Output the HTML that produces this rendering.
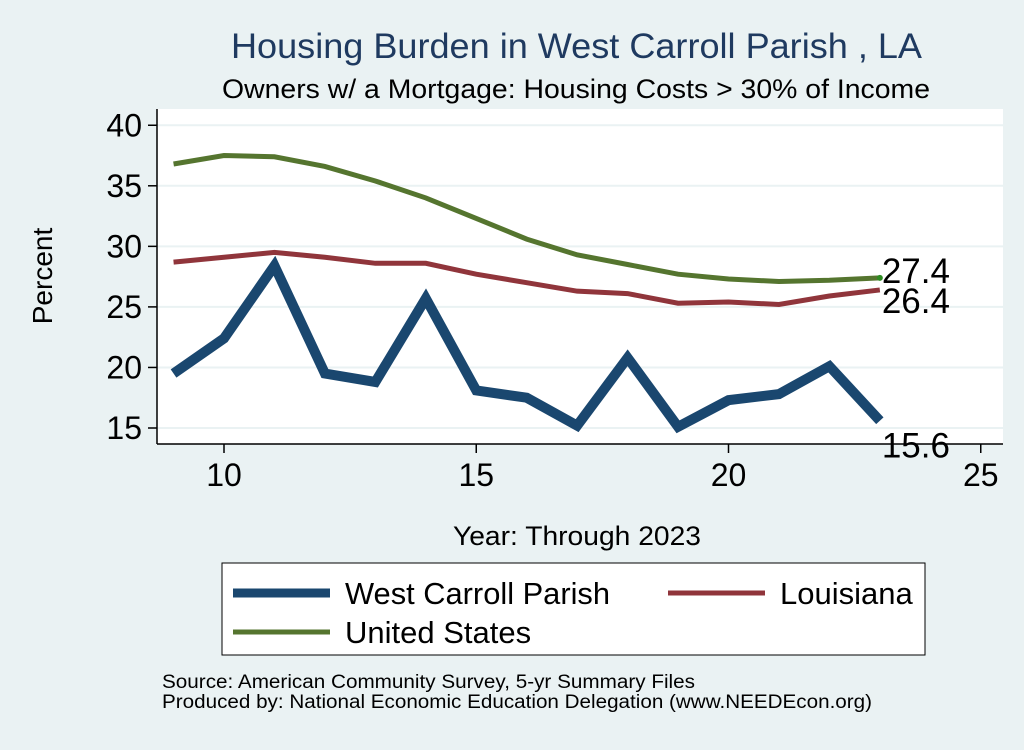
<!DOCTYPE html>
<html><head><meta charset="utf-8"><style>
body{margin:0;background:#eaf2f3;}
svg text{font-family:"Liberation Sans",Arial,sans-serif;}
</style></head><body>
<svg width="1024" height="745" viewBox="0 0 1024 745">
<rect x="0" y="0" width="1024" height="745" fill="#eaf2f3"/>
<rect x="157" y="109" width="846" height="335" fill="#ffffff"/>
<text x="231" y="58" font-size="35" fill="#1f3a60" textLength="691" lengthAdjust="spacingAndGlyphs">Housing Burden in West Carroll Parish , LA</text>
<text x="222" y="98" font-size="27" fill="#000" textLength="708" lengthAdjust="spacingAndGlyphs">Owners w/ a Mortgage: Housing Costs &gt; 30% of Income</text>
<g id="grid"></g><g id="axes"></g><g id="series"></g>
<text x="52" y="276" font-size="28" text-anchor="middle" transform="rotate(-90 52 276)">Percent</text>
<text x="453" y="545" font-size="27" textLength="248" lengthAdjust="spacingAndGlyphs">Year: Through 2023</text>
<g>
<rect x="222" y="563" width="703" height="92" fill="#fff" stroke="#000" stroke-width="1"/>
<line x1="233" y1="593" x2="330" y2="593" stroke="#1a476f" stroke-width="9"/>
<text x="345" y="604" font-size="31" textLength="265" lengthAdjust="spacingAndGlyphs">West Carroll Parish</text>
<line x1="668" y1="593" x2="765" y2="593" stroke="#90353b" stroke-width="5"/>
<text x="780" y="604" font-size="31">Louisiana</text>
<line x1="233" y1="632" x2="330" y2="632" stroke="#55752f" stroke-width="5"/>
<text x="345" y="643" font-size="31">United States</text>
</g>
<text x="162" y="688" font-size="19" textLength="533" lengthAdjust="spacingAndGlyphs">Source: American Community Survey, 5-yr Summary Files</text>
<text x="162" y="708" font-size="19" textLength="710" lengthAdjust="spacingAndGlyphs">Produced by: National Economic Education Delegation (www.NEEDEcon.org)</text>
</svg>
<script>
const years=[9,10,11,12,13,14,15,16,17,18,19,20,21,22,23];
const westCarroll=[19.5,22.4,28.4,19.5,18.8,25.7,18.1,17.5,15.2,20.8,15.1,17.3,17.8,20.1,15.6];
const louisiana=[28.7,29.1,29.5,29.1,28.6,28.6,27.7,27.0,26.3,26.1,25.3,25.4,25.2,25.9,26.4];
const unitedStates=[36.8,37.5,37.4,36.6,35.4,34.0,32.3,30.6,29.3,28.5,27.7,27.3,27.1,27.2,27.4];
const yTicks=[15,20,25,30,35,40];
const xTicks=[10,15,20,25];
const NS="http://www.w3.org/2000/svg";
function X(v){return 224+(v-10)*50.45;}
function Y(v){return 428-(v-15)*12.11;}
function mk(tag,attrs,parent,txt){const e=document.createElementNS(NS,tag);for(const k in attrs)e.setAttribute(k,attrs[k]);if(txt!==undefined)e.textContent=txt;document.getElementById(parent).appendChild(e);return e;}
mk('line',{x1:157,y1:109,x2:157,y2:444,stroke:'#000','stroke-width':1.5},'axes');
mk('line',{x1:157,y1:444,x2:1003,y2:444,stroke:'#000','stroke-width':1.5},'axes');
yTicks.forEach(t=>{
 const g=mk('line',{x1:157,y1:Y(t),x2:1003,y2:Y(t),stroke:'#eaf2f3','stroke-width':2},'grid');
 
 mk('line',{x1:148,y1:Y(t),x2:157,y2:Y(t),stroke:'#000','stroke-width':1.5},'axes');
 const tx=mk('text',{x:142,y:Y(t)+11,'font-size':32,'text-anchor':'end'},'axes',String(t));
 
});
xTicks.forEach(t=>{
 mk('line',{x1:X(t),y1:444,x2:X(t),y2:453,stroke:'#000','stroke-width':1.5},'axes');
 const tx=mk('text',{x:X(t),y:486,'font-size':32,'text-anchor':'middle'},'axes',String(t));
 
});
function line(vals,color,w,name){
 const p=mk('polyline',{points:vals.map((v,i)=>X(years[i])+','+Y(v)).join(' '),fill:'none',stroke:color,'stroke-width':w,'stroke-linejoin':'miter'},'series');
 
 
}
line(unitedStates,'#55752f',5,'line-united-states');
line(louisiana,'#90353b',5,'line-louisiana');
line(westCarroll,'#1a476f',10,'line-west-carroll');
const last=years.length-1;
mk('circle',{cx:X(years[last]),cy:Y(unitedStates[last]),r:3,fill:'#2e8b22'},'series');
const l1=mk('text',{x:X(years[last])+2,y:Y(unitedStates[last])+5,'font-size':35},'series',unitedStates[last].toFixed(1));

const l2=mk('text',{x:X(years[last])+2,y:Y(louisiana[last])+23,'font-size':35},'series',louisiana[last].toFixed(1));

const l3=mk('text',{x:X(years[last])+2,y:Y(westCarroll[last])+37,'font-size':35},'series',westCarroll[last].toFixed(1));

</script>
</body></html>
